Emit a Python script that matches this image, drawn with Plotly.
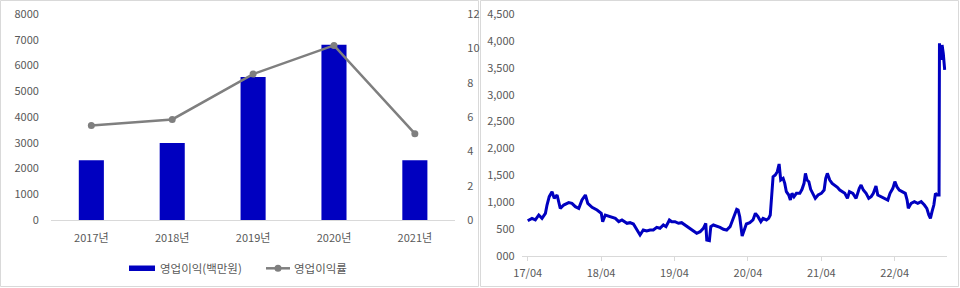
import plotly.graph_objects as go

# ---- Left panel: annual operating income and margin ----
years = ["2017년", "2018년", "2019년", "2020년", "2021년"]
op_income = [2317, 2990, 5553, 6809, 2317]          # 영업이익 (백만원)
op_margin = [5.51, 5.86, 8.50, 10.17, 5.03]         # 영업이익률 (%)

# ---- Right panel: share price ----
price_dates = [
    "2017-04-01", "2017-04-22", "2017-05-09", "2017-05-26", "2017-06-11", "2017-06-28",
    "2017-07-06", "2017-07-17", "2017-07-31", "2017-08-11", "2017-08-25", "2017-09-10",
    "2017-09-27", "2017-10-22", "2017-11-07", "2017-11-24", "2017-12-11", "2017-12-27",
    "2018-01-13", "2018-01-25", "2018-02-15", "2018-03-12", "2018-04-02", "2018-04-09",
    "2018-04-22", "2018-05-17", "2018-06-11", "2018-06-28", "2018-07-14", "2018-08-08",
    "2018-08-23", "2018-09-09", "2018-09-22", "2018-10-03", "2018-10-12", "2018-10-28",
    "2018-11-14", "2018-12-01", "2018-12-17", "2019-01-03", "2019-01-19", "2019-02-05",
    "2019-02-18", "2019-03-07", "2019-03-19", "2019-04-04", "2019-04-21", "2019-05-07",
    "2019-05-24", "2019-06-14", "2019-07-01", "2019-07-21", "2019-08-07", "2019-08-23",
    "2019-09-04", "2019-09-09", "2019-09-22", "2019-09-29", "2019-10-12", "2019-10-29",
    "2019-11-14", "2019-12-01", "2019-12-17", "2020-01-03", "2020-01-16", "2020-01-28",
    "2020-02-05", "2020-02-12", "2020-02-20", "2020-03-03", "2020-03-13", "2020-03-24",
    "2020-04-10", "2020-04-26", "2020-05-08", "2020-05-21", "2020-06-04", "2020-06-15",
    "2020-07-02", "2020-07-13", "2020-07-21", "2020-07-26", "2020-08-04", "2020-08-15",
    "2020-08-25", "2020-09-03", "2020-09-11", "2020-09-23", "2020-10-01", "2020-10-09",
    "2020-10-21", "2020-10-29", "2020-11-06", "2020-11-16", "2020-11-28", "2020-12-15",
    "2020-12-26", "2021-01-05", "2021-01-12", "2021-01-20", "2021-01-29", "2021-02-07",
    "2021-02-19", "2021-03-02", "2021-03-16", "2021-04-01", "2021-04-15", "2021-04-23",
    "2021-05-01", "2021-05-13", "2021-05-25", "2021-06-07", "2021-06-20", "2021-07-02",
    "2021-07-13", "2021-07-27", "2021-08-09", "2021-08-19", "2021-09-05", "2021-09-21",
    "2021-10-07", "2021-10-16", "2021-10-27", "2021-11-10", "2021-11-23", "2021-12-05",
    "2021-12-16", "2021-12-29", "2022-01-07", "2022-01-23", "2022-02-09", "2022-02-26",
    "2022-03-09", "2022-03-23", "2022-04-02", "2022-04-12", "2022-04-24", "2022-05-11",
    "2022-05-24", "2022-06-02", "2022-06-08", "2022-06-22", "2022-07-08", "2022-07-25",
    "2022-08-11", "2022-08-27", "2022-09-08", "2022-09-18", "2022-09-26", "2022-10-04",
    "2022-10-13", "2022-10-21", "2022-10-29", "2022-11-08", "2022-11-10", "2022-11-18",
    "2022-11-23", "2022-11-29", "2022-12-06",
]
price_values = [
    656, 700, 670, 762, 700, 793,
    948, 1103, 1196, 1072, 1134, 886,
    948, 992, 979, 917, 886, 1041,
    1134, 979, 905, 855, 793, 638,
    762, 731, 700, 638, 670, 608,
    620, 595, 515, 452, 390, 483,
    465, 483, 483, 533, 515, 576,
    545, 670, 638, 638, 608, 620,
    576, 515, 483, 422, 452, 515,
    608, 298, 285, 545, 576, 558,
    533, 496, 483, 545, 670, 762,
    868, 855, 731, 372, 483, 595,
    620, 670, 793, 731, 638, 700,
    670, 700, 762, 1072, 1475, 1506,
    1568, 1711, 1413, 1444, 1351, 1196,
    1134, 1041, 1165, 1103, 1165, 1165,
    1240, 1351, 1537, 1413, 1382, 1240,
    1165, 1072, 1134, 1165, 1227, 1444,
    1537, 1413, 1351, 1320, 1277, 1227,
    1196, 1165, 1072, 1196, 1165, 1072,
    1258, 1320, 1227, 1165, 1072, 1103,
    1165, 1302, 1134, 1103, 1072, 1041,
    1165, 1258, 1382, 1289, 1227, 1196,
    1165, 1041, 886, 979, 1010, 979,
    1010, 948, 886, 762, 700, 824,
    948, 1165, 1134, 1134, 3955, 3645,
    3924, 3769, 3459,
]
price_tick_dates = ["2017-04-01", "2018-04-01", "2019-04-01",
                    "2020-04-01", "2021-04-01", "2022-04-01"]
price_tick_vals = [0, 500, 1000, 1500, 2000, 2500, 3000, 3500, 4000, 4500]
price_tick_text = ["000", "500", "1,000", "1,500", "2,000", "2,500",
                   "3,000", "3,500", "4,000", "4,500"]

W, H = 960, 288
BLUE = "#0000C0"
GREY_LINE = "#7F7F7F"
AXIS = "#D9D9D9"
TXT = "#595959"
FONT = "Noto Sans CJK KR"


def px_x(x):
    return x / W


def px_y(y):
    return 1 - y / H


fig = go.Figure()

fig.add_trace(go.Bar(
    x=years, y=op_income, name="영업이익(백만원)",
    marker=dict(color=BLUE, line=dict(width=0)),
    xaxis="x", yaxis="y",
))
fig.add_trace(go.Scatter(
    x=years, y=op_margin, name="영업이익률", mode="lines+markers",
    line=dict(color=GREY_LINE, width=2.5),
    marker=dict(color=GREY_LINE, size=7),
    xaxis="x", yaxis="y2",
))
fig.add_trace(go.Scatter(
    x=price_dates, y=price_values, mode="lines",
    line=dict(color=BLUE, width=3),
    xaxis="x2", yaxis="y3",
))

tickfont = dict(family=FONT, size=11, color=TXT)

fig.update_layout(
    width=W, height=H, autosize=False,
    margin=dict(l=0, r=0, t=0, b=0, pad=0),
    paper_bgcolor="white", plot_bgcolor="white",
    showlegend=False,
    bargap=0.69,
    font=dict(family=FONT, size=11, color=TXT),
    xaxis=dict(
        domain=[px_x(50.9), px_x(455.3)], anchor="y", type="category",
        automargin=False,
        showline=True, linecolor=AXIS, linewidth=1,
        showgrid=False, zeroline=False, ticks="",
        tickfont=tickfont, ticklabelstandoff=8, fixedrange=True,
    ),
    yaxis=dict(
        domain=[px_y(220), px_y(14)], anchor="x", automargin=False,
        range=[0, 8000], dtick=1000, tickformat="d",
        showgrid=False, zeroline=False, showline=False, ticks="",
        tickfont=tickfont, ticklabelstandoff=11, fixedrange=True,
    ),
    yaxis2=dict(
        overlaying="y", side="right", anchor="x", automargin=False,
        range=[0, 12], dtick=2,
        showgrid=False, zeroline=False, showline=False, ticks="",
        tickfont=tickfont, ticklabelstandoff=11, fixedrange=True,
    ),
    xaxis2=dict(
        domain=[px_x(521.7), px_x(946.7)], anchor="y3", type="date",
        automargin=False,
        range=["2017-03-02", "2022-12-16"],
        tickvals=price_tick_dates, tickformat="%y/%m",
        ticks="outside", ticklen=4, tickcolor=AXIS,
        showline=True, linecolor=AXIS, linewidth=1,
        showgrid=False, zeroline=False,
        tickfont=tickfont, ticklabelstandoff=3, fixedrange=True,
    ),
    yaxis3=dict(
        domain=[px_y(256), px_y(14)], anchor="x2", automargin=False,
        range=[0, 4500], tickvals=price_tick_vals, ticktext=price_tick_text,
        showgrid=False, zeroline=False, showline=False, ticks="",
        tickfont=tickfont, ticklabelstandoff=6, fixedrange=True,
    ),
)

shapes = [
    # panel frames
    dict(type="rect", xref="paper", yref="paper",
         x0=px_x(0.5), x1=px_x(478.5), y0=px_y(286.5), y1=px_y(0.5),
         line=dict(color=AXIS, width=1), fillcolor="rgba(0,0,0,0)", layer="below"),
    dict(type="rect", xref="paper", yref="paper",
         x0=px_x(480.5), x1=px_x(958.5), y0=px_y(286.5), y1=px_y(0.5),
         line=dict(color=AXIS, width=1), fillcolor="rgba(0,0,0,0)", layer="below"),
    # legend swatch: bar
    dict(type="rect", xref="paper", yref="paper",
         x0=px_x(129), x1=px_x(155), y0=px_y(271), y1=px_y(265.5),
         line=dict(width=0), fillcolor=BLUE),
    # legend swatch: line with marker
    dict(type="line", xref="paper", yref="paper",
         x0=px_x(266), x1=px_x(290), y0=px_y(268.3), y1=px_y(268.3),
         line=dict(color=GREY_LINE, width=2.5)),
    dict(type="circle", xref="paper", yref="paper",
         x0=px_x(274.5), x1=px_x(281.5), y0=px_y(271.8), y1=px_y(264.8),
         line=dict(width=0), fillcolor=GREY_LINE),
]

annotations = [
    dict(text="영업이익(백만원)", xref="paper", yref="paper",
         x=px_x(158), y=px_y(268.3), xanchor="left", yanchor="middle",
         showarrow=False, font=dict(family=FONT, size=11.5, color=TXT)),
    dict(text="영업이익률", xref="paper", yref="paper",
         x=px_x(292), y=px_y(268.3), xanchor="left", yanchor="middle",
         showarrow=False, font=dict(family=FONT, size=11.5, color=TXT)),
]

fig.update_layout(shapes=shapes, annotations=annotations)

fig.write_html("out.html")
